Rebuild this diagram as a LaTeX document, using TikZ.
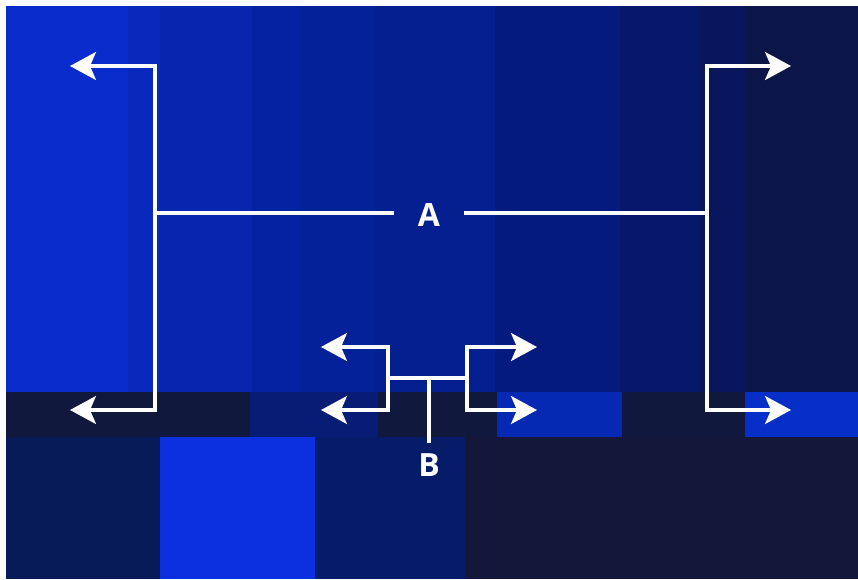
\documentclass[tikz,border=0pt]{standalone}
\usepackage{fontspec}
\setmainfont{Open Sans}
\usetikzlibrary{arrows.meta}

% panel colours
\definecolor{bandA}{HTML}{0A2BCC}
\definecolor{bandB}{HTML}{0929BC}
\definecolor{bandC}{HTML}{0725AE}
\definecolor{bandD}{HTML}{0522A2}
\definecolor{bandE}{HTML}{04219A}
\definecolor{bandF}{HTML}{041F90}
\definecolor{bandG}{HTML}{051A7E}
\definecolor{bandH}{HTML}{07176C}
\definecolor{bandI}{HTML}{0A165C}
\definecolor{bandJ}{HTML}{0C1548}
\definecolor{stripDark}{HTML}{10183E}
\definecolor{stripMid}{HTML}{071C74}
\definecolor{stripBright}{HTML}{0629B4}
\definecolor{stripBrighter}{HTML}{062EC8}
\definecolor{lowNavy}{HTML}{071B58}
\definecolor{lowBright}{HTML}{0A30E0}
\definecolor{lowMid}{HTML}{071C68}
\definecolor{lowDark}{HTML}{14163A}

\begin{document}
\begin{tikzpicture}[x=1pt,y=-1pt,
  wire/.style={draw=white, line width=3.2pt},
  twoway/.style={wire, {Stealth[length=26pt,width=28pt,inset=6pt]}-{Stealth[length=26pt,width=28pt,inset=6pt]}},
  lbl/.style={text=white, font=\bfseries\fontsize{32}{34}\selectfont,
              text height=22pt, text depth=0pt}]

  \useasboundingbox (0,0) rectangle (858,579);
  \fill[white] (0,0) rectangle (858,579);

  % upper vertical stripes
  \fill[bandA] (6,6)   rectangle (128,392);
  \fill[bandB] (128,6) rectangle (160,392);
  \fill[bandC] (160,6) rectangle (252,392);
  \fill[bandD] (252,6) rectangle (300,392);
  \fill[bandE] (300,6) rectangle (375,392);
  \fill[bandF] (375,6) rectangle (495,392);
  \fill[bandG] (495,6) rectangle (620,392);
  \fill[bandH] (620,6) rectangle (700,392);
  \fill[bandI] (700,6) rectangle (745,392);
  \fill[bandJ] (745,6) rectangle (858,392);

  % middle strip
  \fill[stripDark]     (6,392)   rectangle (250,437);
  \fill[stripMid]      (250,392) rectangle (378,437);
  \fill[stripDark]     (378,392) rectangle (497,437);
  \fill[stripBright]   (497,392) rectangle (622,437);
  \fill[stripDark]     (622,392) rectangle (745,437);
  \fill[stripBrighter] (745,392) rectangle (858,437);

  % lower blocks
  \fill[lowNavy]   (6,437)   rectangle (160,579);
  \fill[lowBright] (160,437) rectangle (315,579);
  \fill[lowMid]    (315,437) rectangle (465,579);
  \fill[lowDark]   (465,437) rectangle (858,579);

  % labels
  \node[lbl, inner xsep=24pt, inner ysep=0pt] (A) at (429,215) {A};
  \node[lbl, anchor=north, inner xsep=0pt, inner ysep=11pt] (B) at (429,443) {B};

  % bracket A
  \coordinate (aLT) at (70,66);   \coordinate (aLTc) at (155,66);
  \coordinate (aLBc) at (155,410); \coordinate (aLB) at (70,410);
  \coordinate (aLm) at (155,213);
  \coordinate (aRT) at (791,66);  \coordinate (aRTc) at (707,66);
  \coordinate (aRBc) at (707,410); \coordinate (aRB) at (791,410);
  \coordinate (aRm) at (707,213);
  \draw[twoway] (aLT) -- (aLTc) -- (aLBc) -- (aLB);
  \draw[twoway] (aRT) -- (aRTc) -- (aRBc) -- (aRB);
  \draw[wire] (aLm) -- (aLm -| A.west);
  \draw[wire] (A.east |- aRm) -- (aRm);

  % bracket B
  \coordinate (bLT) at (321,347);  \coordinate (bLTc) at (388,347);
  \coordinate (bLBc) at (388,410); \coordinate (bLB) at (321,410);
  \coordinate (bRT) at (537,347);  \coordinate (bRTc) at (467,347);
  \coordinate (bRBc) at (467,410); \coordinate (bRB) at (537,410);
  \coordinate (bL) at (388,378);   \coordinate (bR) at (467,378);
  \coordinate (bM) at (429,378);
  \draw[twoway] (bLT) -- (bLTc) -- (bLBc) -- (bLB);
  \draw[twoway] (bRT) -- (bRTc) -- (bRBc) -- (bRB);
  \draw[wire] (bL) -- (bR);
  \draw[wire] (bM) -- (B.north);
\end{tikzpicture}
\end{document}
